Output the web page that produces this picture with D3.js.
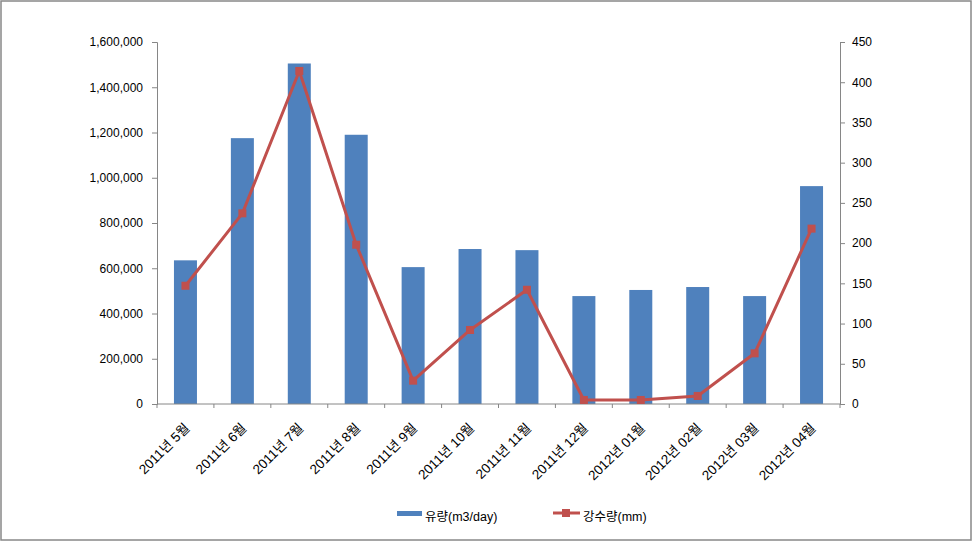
<!DOCTYPE html>
<html><head><meta charset="utf-8">
<script src="https://cdn.jsdelivr.net/npm/d3@7"></script>
<style>body{margin:0;background:#fff}svg{display:block}</style>
</head><body><svg id="c" width="973" height="542"></svg>
<script>
const categories = ["2011년 5월","2011년 6월","2011년 7월","2011년 8월","2011년 9월","2011년 10월","2011년 11월","2011년 12월","2012년 01월","2012년 02월","2012년 03월","2012년 04월"];
const flow = [635000,1175000,1505000,1190000,605000,685000,680000,477000,504000,517000,477000,963000];
const rain = [147,237,414,198,29,92,142,5,5,10,63,218];
const leftTicks = [0,200000,400000,600000,800000,1000000,1200000,1400000,1600000];
const rightTicks = [0,50,100,150,200,250,300,350,400,450];
const seriesNames = ["유량(m3/day)","강수량(mm)"];

const svg = d3.select("#c");
const font = "'Liberation Sans','Noto Sans CJK KR',Arial,sans-serif";
const axisColor = "#868686";
const M = {l:157, r:840, t:42, b:404};

svg.append("rect").attr("x",1).attr("y",1).attr("width",970).attr("height",539)
  .attr("fill","#fff").attr("stroke","#888").attr("stroke-width",1.5);

const xb = d3.scaleBand().domain(categories).range([M.l, M.r]);
const yL = d3.scaleLinear().domain([0,1600000]).range([M.b, M.t]);
const yR = d3.scaleLinear().domain([0,450]).range([M.b, M.t]);

// bars
svg.append("g").selectAll("rect").data(flow).join("rect")
  .attr("x",(d,i)=>xb(categories[i]) + (xb.bandwidth()-23)/2)
  .attr("width",23)
  .attr("y",d=>yL(d)).attr("height",d=>M.b-yL(d))
  .attr("fill","#4F81BD");

// left axis
const gL = svg.append("g").attr("transform",`translate(${M.l},0)`)
  .call(d3.axisLeft(yL).tickValues(leftTicks).tickSize(5).tickPadding(9).tickFormat(d3.format(",")));
// right axis
const gR = svg.append("g").attr("transform",`translate(${M.r},0)`)
  .call(d3.axisRight(yR).tickValues(rightTicks).tickSize(5).tickPadding(7));
[gL,gR].forEach(g=>{
  g.select(".domain").attr("stroke",axisColor);
  g.selectAll(".tick line").attr("stroke",axisColor);
  g.selectAll("text").attr("font-family",font).attr("font-size",12).attr("fill","#000");
});

// x axis line and ticks at band boundaries
const gX = svg.append("g");
gX.append("line").attr("x1",M.l).attr("x2",M.r).attr("y1",M.b).attr("y2",M.b).attr("stroke",axisColor);
gX.selectAll("line.t").data(d3.range(categories.length+1)).join("line").attr("class","t")
  .attr("x1",i=>M.l+i*xb.step()).attr("x2",i=>M.l+i*xb.step())
  .attr("y1",M.b).attr("y2",M.b+4).attr("stroke",axisColor);
gX.selectAll("text").data(categories).join("text")
  .attr("transform",d=>`translate(${xb(d)+xb.bandwidth()/2+5},${M.b+25}) rotate(-45)`)
  .attr("text-anchor","end").attr("font-family",font).attr("font-size",13.5).attr("fill","#000")
  .text(d=>d);

// line
const line = d3.line().x((d,i)=>xb(categories[i])+xb.bandwidth()/2).y(d=>yR(d));
svg.append("path").datum(rain).attr("d",line).attr("fill","none")
  .attr("stroke","#C0504D").attr("stroke-width",3).attr("stroke-linejoin","round");
svg.append("g").selectAll("rect").data(rain).join("rect")
  .attr("x",(d,i)=>xb(categories[i])+xb.bandwidth()/2-4)
  .attr("y",d=>yR(d)-4).attr("width",8).attr("height",8).attr("fill","#C0504D");

// legend
const lg = svg.append("g");
lg.append("rect").attr("x",397).attr("y",511).attr("width",25).attr("height",5).attr("fill","#4F81BD");
lg.append("text").attr("x",425).attr("y",521).attr("font-family",font).attr("font-size",12.5).text(seriesNames[0]);
lg.append("line").attr("x1",553).attr("x2",580).attr("y1",513).attr("y2",513).attr("stroke","#C0504D").attr("stroke-width",3);
lg.append("rect").attr("x",562).attr("y",509).attr("width",8).attr("height",8).attr("fill","#C0504D");
lg.append("text").attr("x",583).attr("y",521).attr("font-family",font).attr("font-size",12.5).text(seriesNames[1]);
</script></body></html>
